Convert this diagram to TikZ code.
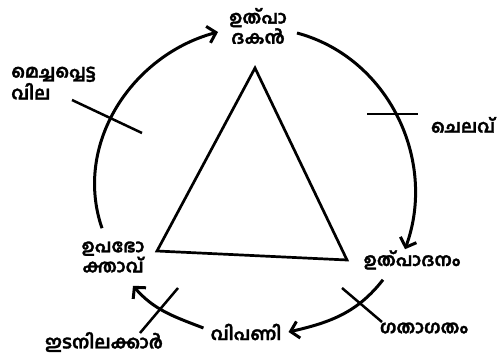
\documentclass[tikz,border=0pt]{standalone}
\usepackage{fontspec}
\newfontfamily\mlfont[Script=Malayalam, BoldFeatures={FakeBold=1.6}]{Hind Kochi}
\usetikzlibrary{arrows.meta, calc}

\begin{document}
\begin{tikzpicture}[
  x=1pt, y=1pt,
  >={Straight Barb[length=8pt, width=17pt]},
  lbl/.style={font=\mlfont\bfseries\fontsize{18}{17}\selectfont, align=center, inner sep=1pt},
  flow/.style={->, line width=3pt},
  tick/.style={line width=2.5pt}
]
\useasboundingbox (0,0) rectangle (503,359);

% the labels round the circle
\node[lbl] (prod) at (258,333) {ഉത്പാ\\ദകൻ};
\node[lbl] (prodn) at (412,99) {ഉത്പാദനം};
\node[lbl] (market) at (246,27) {വിപണി};
\node[lbl] (cons) at (113,102) {ഉപഭോ\\ക്താവ്};
\node[lbl] (cost) at (463,234) {ചെലവ്};
\node[lbl] (trans) at (424,31) {ഗതാഗതം};
\node[lbl] (middle) at (104,17) {ഇടനിലക്കാർ};
\node[lbl, align=left, anchor=west] (price) at (10,276) {മെച്ചപ്പെട്ട\\വില};

% triangle in the middle
\draw[line width=2.7pt, line join=miter] (255,291) -- (157,108) -- (347,99) -- cycle;

% the cycle
\draw[flow] ($(prod.east)+(9,-7)$) to[out=-15, in=70] ($(prodn.north)+(-7,0)$);
\draw[flow] ($(prodn.south)+(-29,-9)$) to[out=-128, in=13] ($(market.east)+(6,0)$);
\draw[flow] ($(market.west)+(-6,4)$) to[out=159, in=-49] ($(cons.south)+(20,-12)$);
\draw[flow] ($(cons.north)+(-11,12)$) to[out=109, in=195] ($(prod.west)+(-10,-6)$);

% cross marks
\draw[tick] (367,245) -- (418,245);
\draw[tick] (342,71) -- (382,37);
\draw[tick] (178,71) -- (140,26);
\draw[tick] (72,259) -- (142,226);
\end{tikzpicture}
\end{document}
